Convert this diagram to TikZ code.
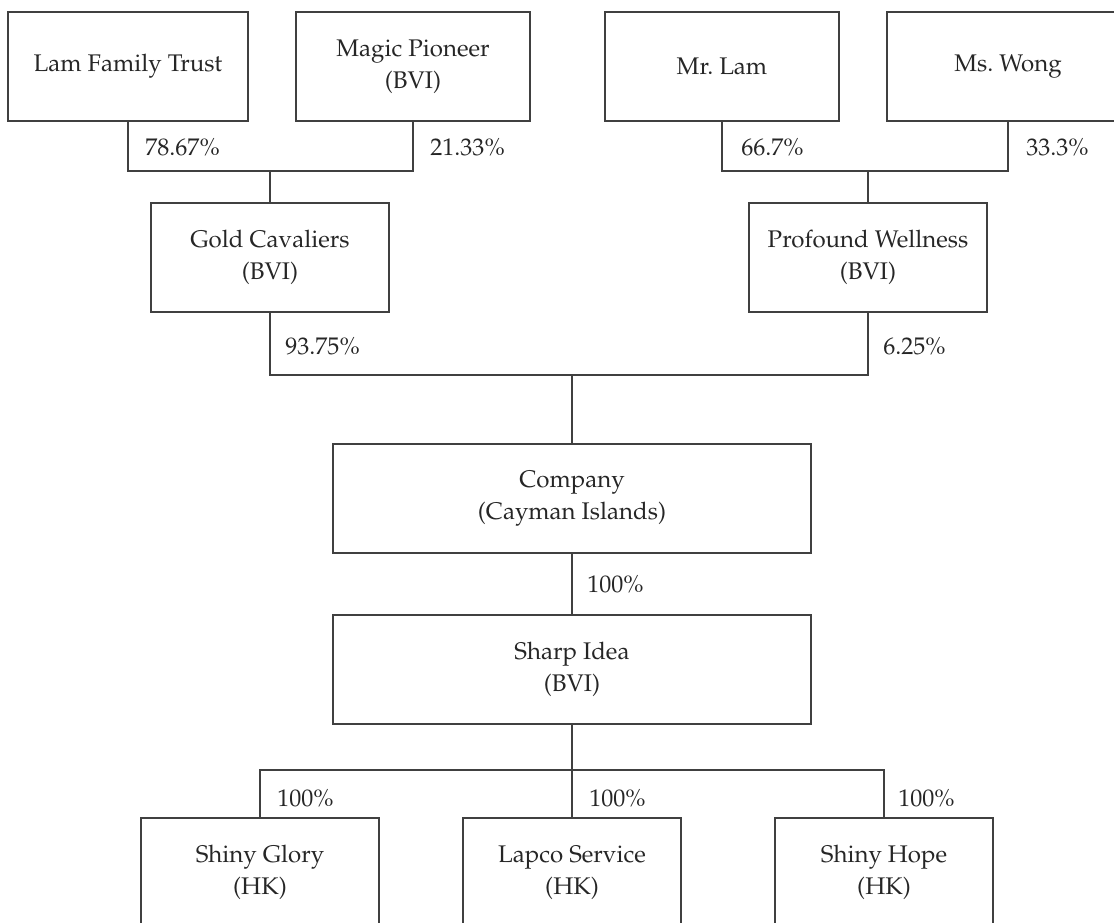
\documentclass[tikz,border=0pt]{standalone}
\usepackage[T1]{fontenc}
\usepackage{mathpazo}
\usepackage{tikz}

\tikzset{
  box/.style={draw=black!75, line width=0.7pt, text=black!85, align=center,
    minimum height=2.18cm, inner sep=2pt,
    font=\fontsize{13.7}{18.5}\selectfont},
  pct/.style={anchor=west, inner sep=0pt, text=black!85,
    font=\fontsize{13.7}{16}\selectfont},
  link/.style={draw=black!75, line width=0.7pt}
}

\begin{document}
\begin{tikzpicture}

\useasboundingbox (0,0) rectangle (22.28,18.44);

\node[box, minimum width=4.80cm] (lft) at (2.56,17.11) {Lam Family Trust};
\node[box, minimum width=4.68cm] (magic) at (8.26,17.11) {Magic Pioneer\\(BVI)};
\node[box, minimum width=4.68cm] (mrlam) at (14.44,17.11) {Mr.~Lam};
\node[box, minimum width=4.84cm] (mswong) at (20.16,17.11) {Ms.~Wong};

\node[box, minimum width=4.76cm] (gold) at (5.40,13.29) {Gold Cavaliers\\(BVI)};
\node[box, minimum width=4.76cm] (prof) at (17.36,13.29) {Profound Wellness\\(BVI)};

\node[box, minimum width=9.56cm] (company) at (11.44,8.47) {Company\\(Cayman Islands)};
\node[box, minimum width=9.56cm] (sharp) at (11.44,5.05) {Sharp Idea\\(BVI)};

\node[box, minimum width=4.76cm] (glory) at (5.20,0.99) {Shiny Glory\\(HK)};
\node[box, minimum width=4.36cm] (lapco) at (11.44,0.99) {Lapco Service\\(HK)};
\node[box, minimum width=4.36cm] (hope) at (17.68,0.99) {Shiny Hope\\(HK)};

\coordinate (jgold) at (gold.north |- 0,15.02);
\coordinate (jprof) at (prof.north |- 0,15.02);
\coordinate (jco) at (company.north |- 0,10.94);
\coordinate (jsub) at (sharp.south |- 0,3.04);

\draw[link] (lft.south) |- (jgold) -| (magic.south);
\draw[link] (jgold) -- (gold.north);
\draw[link] (mrlam.south) |- (jprof) -| (mswong.south);
\draw[link] (jprof) -- (prof.north);

\draw[link] (gold.south) |- (jco) -| (prof.south);
\draw[link] (jco) -- (company.north);
\draw[link] (company.south) -- (sharp.north);

\draw[link] (sharp.south) -- (lapco.north);
\draw[link] (glory.north) |- (jsub) -| (hope.north);

\node[pct] (p1) at (2.90,15.50) {78.67\%};
\node[pct] (p2) at (8.60,15.50) {21.33\%};
\node[pct] (p3) at (14.82,15.50) {66.7\%};
\node[pct] (p4) at (20.52,15.50) {33.3\%};
\node[pct] (p5) at (5.70,11.52) {93.75\%};
\node[pct] (p6) at (17.66,11.52) {6.25\%};
\node[pct] (p7) at (11.74,6.76) {100\%};
\node[pct] (p8) at (5.54,2.48) {100\%};
\node[pct] (p9) at (11.78,2.48) {100\%};
\node[pct] (p10) at (17.96,2.48) {100\%};

\end{tikzpicture}
\end{document}
